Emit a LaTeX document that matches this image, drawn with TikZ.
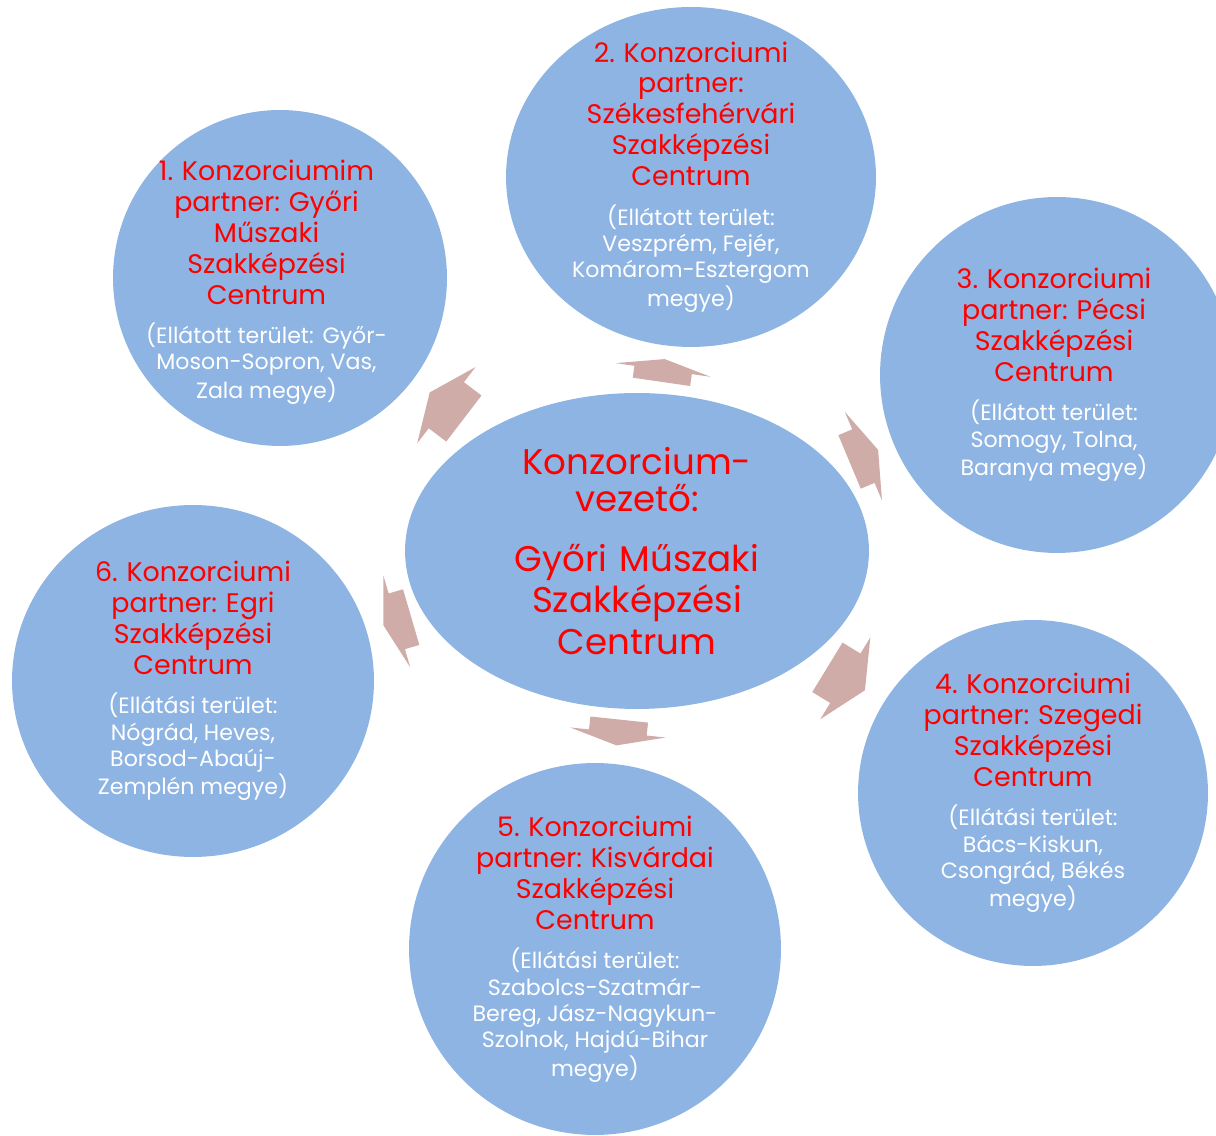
\documentclass[tikz,border=0pt]{standalone}
\usepackage{fontspec}
\setmainfont{Poppins}
\usetikzlibrary{shapes.geometric}

\definecolor{discblue}{HTML}{8EB4E3}
\definecolor{arrowpink}{HTML}{CFACA8}

\newcommand{\partnertext}[2]{%
  {\color{red}\fontsize{15.3}{17.6}\selectfont #1\par}\vspace{7.5pt}%
  {\color{white}\fontsize{12.6}{15}\selectfont #2\par}}

\tikzset{
  disc/.style={ellipse, fill=discblue, inner sep=0pt},
  txt/.style={text width=6cm, align=center, inner sep=0pt},
  pics/blockarrow/.style 2 args={code={
    \fill[arrowpink] (-#1,-29) -- (0,-29) -- (0,-48) -- (#2,0) -- (0,48) -- (0,29) -- (-#1,29) -- cycle;
  }}
}

\begin{document}
\begin{tikzpicture}[x=0.02cm, y=0.02cm]
\useasboundingbox (0,0) rectangle (1216,1135);
%central ellipse
\node[disc, minimum width=9.28cm, minimum height=6.32cm] (hub) at (637,584) {};
\node[txt, font=\fontsize{20.3}{21}\selectfont, text=red] (hubtext) at (hub) {%
  Konzorcium-\\vezető:\par\vspace{10.5pt}%
  {\fontsize{20.3}{23.5}\selectfont Győri Műszaki\\Szakképzési\\Centrum\par}};
%partner circles
\node[disc, minimum width=6.68cm, minimum height=6.72cm] (p1) at (280,857) {};
\node[disc, minimum width=7.40cm, minimum height=6.80cm] (p2) at (691,958) {};
\node[disc, minimum width=7.08cm, minimum height=7.12cm] (p3) at (1057,760) {};
\node[disc, minimum width=7.00cm, minimum height=6.92cm] (p4) at (1033,342) {};
\node[disc, minimum width=7.44cm, minimum height=7.44cm] (p5) at (595,186) {};
\node[disc, minimum width=7.24cm, minimum height=7.04cm] (p6) at (193,454) {};
%texts of the partners
\node[txt, xshift=-0.27cm, yshift=-0.08cm] (t1) at (p1) {\partnertext
  {1. Konzorciumim\\partner: Győri\\Műszaki\\Szakképzési\\Centrum}
  {(Ellátott terület: Győr-\\Moson-Sopron, Vas,\\Zala megye)}};
\node[txt] (t2) at (p2) {\partnertext
  {2. Konzorciumi\\partner:\\Székesfehérvári\\Szakképzési\\Centrum}
  {(Ellátott terület:\\Veszprém, Fejér,\\Komárom-Esztergom\\megye)}};
\node[txt, xshift=-0.06cm] (t3) at (p3) {\partnertext
  {3. Konzorciumi\\partner: Pécsi\\Szakképzési\\Centrum}
  {(Ellátott terület:\\Somogy, Tolna,\\Baranya megye)}};
\node[txt] (t4) at (p4) {\partnertext
  {4. Konzorciumi\\partner: Szegedi\\Szakképzési\\Centrum}
  {(Ellátási terület:\\Bács-Kiskun,\\Csongrád, Békés\\megye)}};
\node[txt] (t5) at (p5) {\partnertext
  {5. Konzorciumi\\partner: Kisvárdai\\Szakképzési\\Centrum}
  {(Ellátási terület:\\Szabolcs-Szatmár-\\Bereg, Jász-Nagykun-\\Szolnok, Hajdú-Bihar\\megye)}};
\node[txt] (t6) at (p6) {\partnertext
  {6. Konzorciumi\\partner: Egri\\Szakképzési\\Centrum}
  {(Ellátási terület:\\Nógrád, Heves,\\Borsod-Abaúj-\\Zemplén megye)}};
%arrows from the centre to the partners
\path[allow upside down] (hub.center) -- pic[pos=0.534, sloped]{blockarrow={22}{21}} (p1.center);
\path[allow upside down] (hub.center) -- pic[pos=0.484, sloped]{blockarrow={12}{11}} (p2.center);
\path[allow upside down] (hub.center) -- pic[pos=0.539, sloped]{blockarrow={15}{16}} (p3.center);
\path[allow upside down] (hub.center) -- pic[pos=0.526, sloped]{blockarrow={21}{23}} (p4.center);
\path[allow upside down] (hub.center) -- pic[pos=0.456, sloped]{blockarrow={13}{13}} (p5.center);
\path[allow upside down] (hub.center) -- pic[pos=0.541, sloped]{blockarrow={15}{14}} (p6.center);
\end{tikzpicture}
\end{document}
